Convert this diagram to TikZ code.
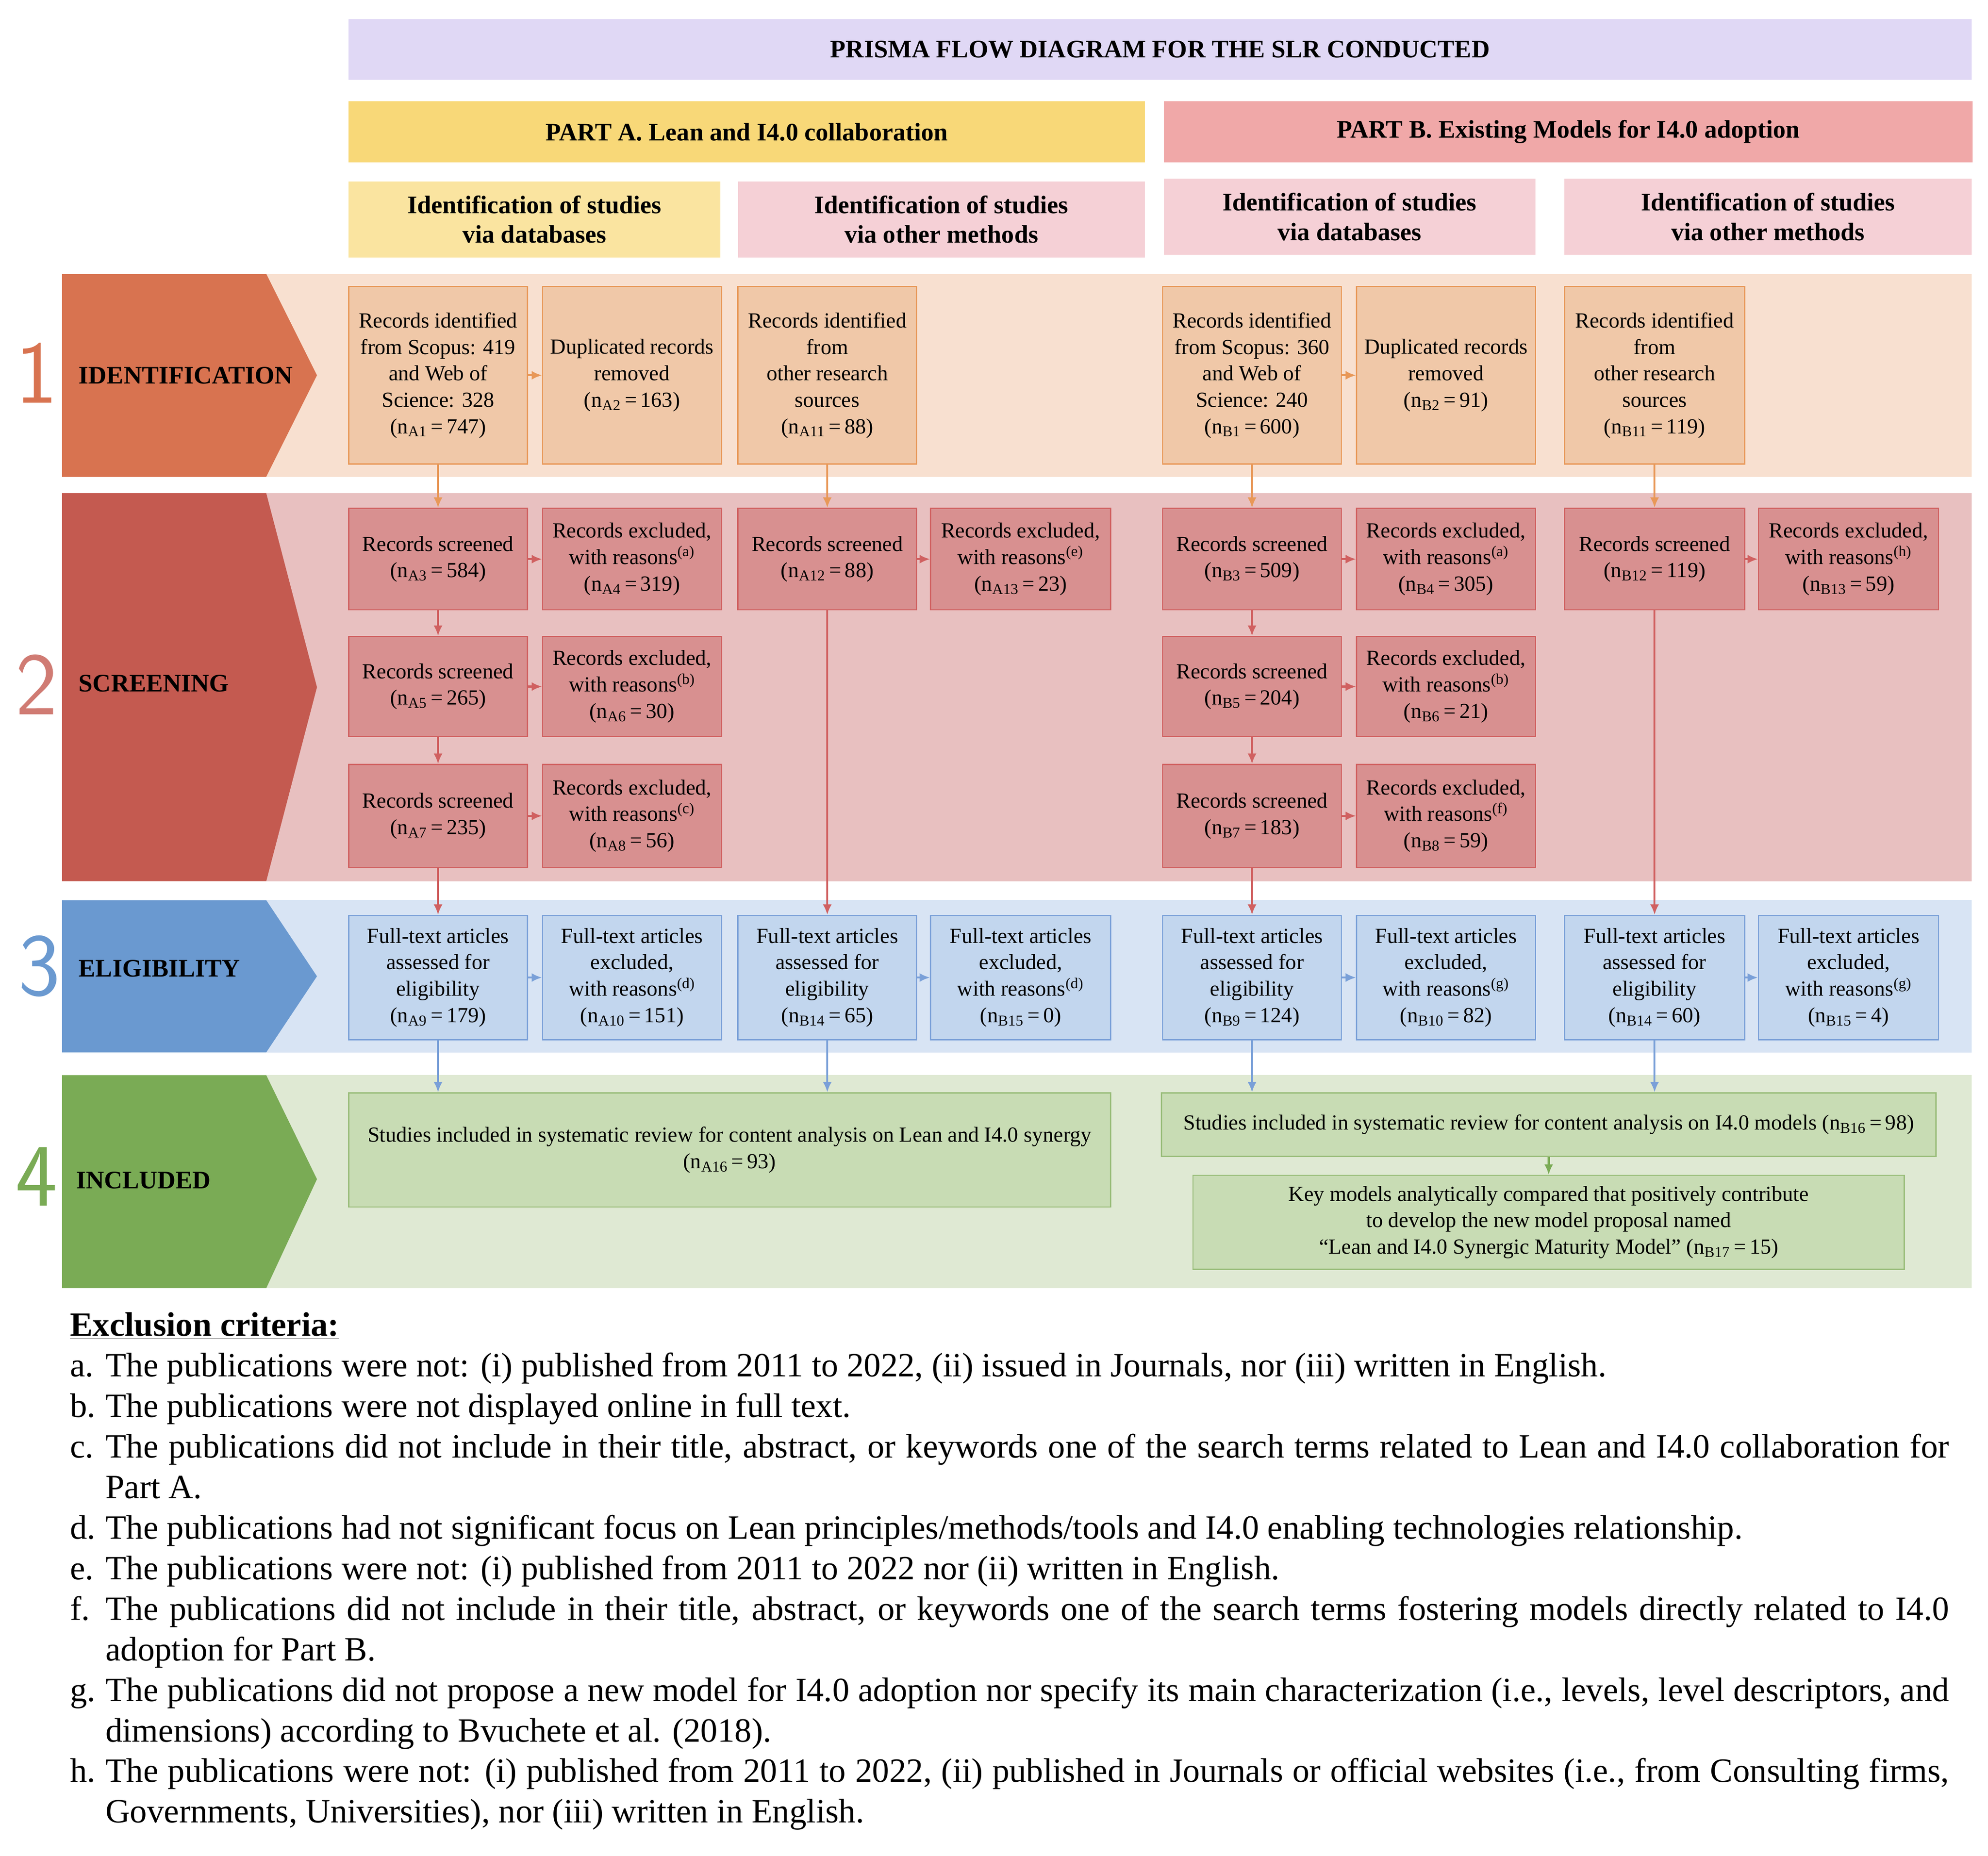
\documentclass[tikz,border=0pt]{standalone}
\usepackage{fontspec}
\setmainfont{Liberation Serif}
\usetikzlibrary{arrows.meta}
\definecolor{cTitle}{HTML}{E0D8F5}
\definecolor{cPA}{HTML}{F8D878}
\definecolor{cPB}{HTML}{F0A8A8}
\definecolor{cSA}{HTML}{FAE4A0}
\definecolor{cSB}{HTML}{F5D0D6}
\definecolor{idD}{HTML}{D87350}\definecolor{idL}{HTML}{F8E0D0}\definecolor{idF}{HTML}{F0C8A8}\definecolor{idB}{HTML}{E89858}
\definecolor{scD}{HTML}{C45A50}\definecolor{scL}{HTML}{E8C0C0}\definecolor{scF}{HTML}{D89090}\definecolor{scB}{HTML}{D06060}
\definecolor{elD}{HTML}{6A99D0}\definecolor{elL}{HTML}{D8E4F4}\definecolor{elF}{HTML}{C2D6EE}\definecolor{elB}{HTML}{7AA0D8}
\definecolor{inD}{HTML}{7AAB55}\definecolor{inL}{HTML}{DFE9D3}\definecolor{inF}{HTML}{C8DCB4}\definecolor{inB}{HTML}{98BC78}
\newcommand\nn[2]{(n\textsubscript{#1}\,=\,#2)}
\newcommand\bx[7]{\node[#2, minimum width={(#5-#3)*0.03cm}, minimum height={(#6-#4)*0.03cm}] (#1) at ({(#3+#5)/2},{(#4+#6)/2}) {#7};}
\tikzset{
 base/.style={draw, line width=0.8pt, inner sep=0pt, align=center, font=\fontsize{14.5}{17.8}\selectfont},
 idbox/.style={base, fill=idF, draw=idB},
 scbox/.style={base, fill=scF, draw=scB},
 elbox/.style={base, fill=elF, draw=elB},
 inbox/.style={base, fill=inF, draw=inB},
 hdr/.style={inner sep=0pt, align=center, font=\fontsize{17}{20}\selectfont\bfseries},
 stg/.style={anchor=west, font=\fontsize{17}{19}\selectfont\bfseries},
 big/.style={font=\fontsize{60}{60}\selectfont\sffamily},
 ar/.style={line width=1.3pt, -{Latex[length=7pt,width=6pt]}},
}
\begin{document}
\begin{tikzpicture}[x=0.03cm,y=-0.03cm]
\useasboundingbox (0,0) rectangle (1568,1463.5);
% headers
\bx{title}{hdr, fill=cTitle}{275}{15}{1555}{63}{PRISMA FLOW DIAGRAM FOR THE SLR CONDUCTED}
\bx{pa}{hdr, fill=cPA}{275}{80}{903}{128}{PART A. Lean and I4.0 collaboration}
\bx{pb}{hdr, fill=cPB}{918}{80}{1556}{128}{PART B. Existing Models for I4.0 adoption}
\bx{sa1}{hdr, fill=cSA}{275}{143}{568}{203}{Identification of studies\\via databases}
\bx{sa2}{hdr, fill=cSB}{582}{143}{903}{203}{Identification of studies\\via other methods}
\bx{sb1}{hdr, fill=cSB}{918}{141}{1211}{201}{Identification of studies\\via databases}
\bx{sb2}{hdr, fill=cSB}{1234}{141}{1555}{201}{Identification of studies\\via other methods}
% bands
\fill[idL] (210,216) rectangle (1555,376);
\fill[idD] (49,216) -- (210,216) -- (250,296) -- (210,376) -- (49,376) -- cycle;
\fill[scL] (210,389) rectangle (1555,695);
\fill[scD] (49,389) -- (210,389) -- (250,542) -- (210,695) -- (49,695) -- cycle;
\fill[elL] (210,710) rectangle (1555,830);
\fill[elD] (49,710) -- (210,710) -- (250,770) -- (210,830) -- (49,830) -- cycle;
\fill[inL] (210,848) rectangle (1555,1016);
\fill[inD] (49,848) -- (210,848) -- (250,930) -- (210,1016) -- (49,1016) -- cycle;
\node[stg] (s1) at (58,296) {IDENTIFICATION};
\node[stg] (s2) at (58,539) {SCREENING};
\node[stg] (s3) at (58,764) {ELIGIBILITY};
\node[stg] (s4) at (56,931) {INCLUDED};
\node[big, text=idD] (n1) at (29,294) {1};
\node[big, text=scD!80] (n2) at (29,540) {2};
\node[big, text=elD] (n3) at (31,762) {3};
\node[big, text=inD] (n4) at (29,928) {4};
% identification
\bx{a1}{idbox}{275}{226}{416}{366}{Records identified\\from Scopus: 419\\and Web of\\Science: 328\\\nn{A1}{747}}
\bx{a2}{idbox}{428}{226}{569}{366}{Duplicated records\\removed\\\nn{A2}{163}}
\bx{a11}{idbox}{582}{226}{723}{366}{Records identified\\from\\other research\\sources\\\nn{A11}{88}}
\bx{b1}{idbox}{917}{226}{1058}{366}{Records identified\\from Scopus: 360\\and Web of\\Science: 240\\\nn{B1}{600}}
\bx{b2}{idbox}{1070}{226}{1211}{366}{Duplicated records\\removed\\\nn{B2}{91}}
\bx{b11}{idbox}{1234}{226}{1376}{366}{Records identified\\from\\other research\\sources\\\nn{B11}{119}}
% screening
\bx{a3}{scbox}{275}{401}{416}{481}{Records screened\\\nn{A3}{584}}
\bx{a4}{scbox}{428}{401}{569}{481}{Records excluded,\\with reasons\textsuperscript{(a)}\\\nn{A4}{319}}
\bx{a12}{scbox}{582}{401}{723}{481}{Records screened\\\nn{A12}{88}}
\bx{a13}{scbox}{734}{401}{876}{481}{Records excluded,\\with reasons\textsuperscript{(e)}\\\nn{A13}{23}}
\bx{b3}{scbox}{917}{401}{1058}{481}{Records screened\\\nn{B3}{509}}
\bx{b4}{scbox}{1070}{401}{1211}{481}{Records excluded,\\with reasons\textsuperscript{(a)}\\\nn{B4}{305}}
\bx{b12}{scbox}{1234}{401}{1376}{481}{Records screened\\\nn{B12}{119}}
\bx{b13}{scbox}{1387}{401}{1529}{481}{Records excluded,\\with reasons\textsuperscript{(h)}\\\nn{B13}{59}}
\bx{a5}{scbox}{275}{502}{416}{581}{Records screened\\\nn{A5}{265}}
\bx{a6}{scbox}{428}{502}{569}{581}{Records excluded,\\with reasons\textsuperscript{(b)}\\\nn{A6}{30}}
\bx{b5}{scbox}{917}{502}{1058}{581}{Records screened\\\nn{B5}{204}}
\bx{b6}{scbox}{1070}{502}{1211}{581}{Records excluded,\\with reasons\textsuperscript{(b)}\\\nn{B6}{21}}
\bx{a7}{scbox}{275}{603}{416}{684}{Records screened\\\nn{A7}{235}}
\bx{a8}{scbox}{428}{603}{569}{684}{Records excluded,\\with reasons\textsuperscript{(c)}\\\nn{A8}{56}}
\bx{b7}{scbox}{917}{603}{1058}{684}{Records screened\\\nn{B7}{183}}
\bx{b8}{scbox}{1070}{603}{1211}{684}{Records excluded,\\with reasons\textsuperscript{(f)}\\\nn{B8}{59}}
% eligibility
\bx{a9}{elbox}{275}{722}{416}{820}{Full-text articles\\assessed for\\eligibility\\\nn{A9}{179}}
\bx{a10}{elbox}{428}{722}{569}{820}{Full-text articles\\excluded,\\with reasons\textsuperscript{(d)}\\\nn{A10}{151}}
\bx{a14}{elbox}{582}{722}{723}{820}{Full-text articles\\assessed for\\eligibility\\\nn{B14}{65}}
\bx{a15}{elbox}{734}{722}{876}{820}{Full-text articles\\excluded,\\with reasons\textsuperscript{(d)}\\\nn{B15}{0}}
\bx{b9}{elbox}{917}{722}{1058}{820}{Full-text articles\\assessed for\\eligibility\\\nn{B9}{124}}
\bx{b10}{elbox}{1070}{722}{1211}{820}{Full-text articles\\excluded,\\with reasons\textsuperscript{(g)}\\\nn{B10}{82}}
\bx{b14}{elbox}{1234}{722}{1376}{820}{Full-text articles\\assessed for\\eligibility\\\nn{B14}{60}}
\bx{b15}{elbox}{1387}{722}{1529}{820}{Full-text articles\\excluded,\\with reasons\textsuperscript{(g)}\\\nn{B15}{4}}
% included
\bx{a16}{inbox}{275}{862}{876}{952}{Studies included in systematic review for content analysis on Lean and I4.0 synergy\\\nn{A16}{93}}
\bx{b16}{inbox}{916}{862}{1527}{912}{Studies included in systematic review for content analysis on I4.0 models \nn{B16}{98}}
\bx{b17}{inbox}{941}{927}{1502}{1001}{Key models analytically compared that positively contribute\\to develop the new model proposal named\\``Lean and I4.0 Synergic Maturity Model'' \nn{B17}{15}}
% arrows identification
\draw[ar, idB] (a1) -- (a2);
\draw[ar, idB] (b1) -- (b2);
\draw[ar, idB] (a1) -- (a3);
\draw[ar, idB] (a11) -- (a12);
\draw[ar, idB] (b1) -- (b3);
\draw[ar, idB] (b11) -- (b12);
% screening arrows
\draw[ar, scB] (a3) -- (a4);
\draw[ar, scB] (a12) -- (a13);
\draw[ar, scB] (b3) -- (b4);
\draw[ar, scB] (b12) -- (b13);
\draw[ar, scB] (a5) -- (a6);
\draw[ar, scB] (b5) -- (b6);
\draw[ar, scB] (a7) -- (a8);
\draw[ar, scB] (b7) -- (b8);
\draw[ar, scB] (a3) -- (a5);
\draw[ar, scB] (a5) -- (a7);
\draw[ar, scB] (b3) -- (b5);
\draw[ar, scB] (b5) -- (b7);
\draw[ar, scB] (a7) -- (a9);
\draw[ar, scB] (b7) -- (b9);
\draw[ar, scB] (a12) -- (a14);
\draw[ar, scB] (b12) -- (b14);
% eligibility arrows
\draw[ar, elB] (a9) -- (a9 |- a16.north);
\draw[ar, elB] (a14) -- (a14 |- a16.north);
\draw[ar, elB] (b9) -- (b9 |- b16.north);
\draw[ar, elB] (b14) -- (b14 |- b16.north);
\draw[ar, elB] (a9) -- (a10);
\draw[ar, elB] (a14) -- (a15);
\draw[ar, elB] (b9) -- (b10);
\draw[ar, elB] (b14) -- (b15);
\draw[ar, inD] (b16) -- (b17);
% exclusion criteria
\node[anchor=north west, inner sep=0pt, text width=44.46cm, align=justify,
 font=\fontsize{22.9}{27.3}\selectfont] (crit) at (55,1035) {%
\textbf{\underline{Exclusion criteria:}}\par
\hangindent=0.84cm\hangafter=1 \makebox[0.84cm][l]{a.}The publications were not: (i) published from 2011 to 2022, (ii) issued in Journals, nor (iii) written in English.\par
\hangindent=0.84cm\hangafter=1 \makebox[0.84cm][l]{b.}The publications were not displayed online in full text.\par
\hangindent=0.84cm\hangafter=1 \makebox[0.84cm][l]{c.}The publications did not include in their title, abstract, or keywords one of the search terms related to Lean and I4.0 collaboration for Part A.\par
\hangindent=0.84cm\hangafter=1 \makebox[0.84cm][l]{d.}The publications had not significant focus on Lean principles/methods/tools and I4.0 enabling technologies relationship.\par
\hangindent=0.84cm\hangafter=1 \makebox[0.84cm][l]{e.}The publications were not: (i) published from 2011 to 2022 nor (ii) written in English.\par
\hangindent=0.84cm\hangafter=1 \makebox[0.84cm][l]{f.}The publications did not include in their title, abstract, or keywords one of the search terms fostering models directly related to I4.0 adoption for Part B.\par
\hangindent=0.84cm\hangafter=1 \makebox[0.84cm][l]{g.}The publications did not propose a new model for I4.0 adoption nor specify its main characterization (i.e., levels, level descriptors, and dimensions) according to Bvuchete et al. (2018).\par
\hangindent=0.84cm\hangafter=1 \makebox[0.84cm][l]{h.}The publications were not: (i) published from 2011 to 2022, (ii) published in Journals or official websites (i.e., from Consulting firms, Governments, Universities), nor (iii) written in English.\par};
\end{tikzpicture}
\end{document}
